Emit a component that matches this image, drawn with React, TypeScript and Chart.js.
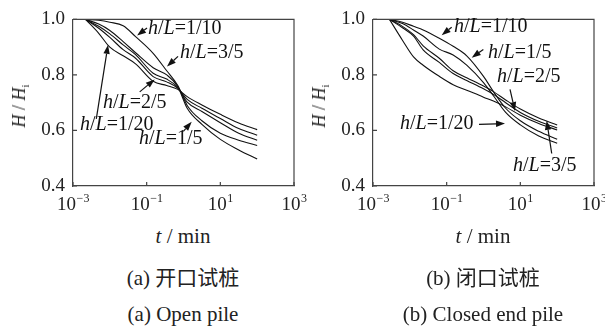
import React, { useEffect, useRef } from "react";
import { Chart, registerables } from "chart.js";

Chart.register(...registerables);

const SERIF = '"Liberation Serif", Tinos, "Times New Roman", Times, "DejaVu Serif", serif';
const CJK = '"Liberation Serif", Tinos, "Noto Sans CJK SC", serif';

// ---------- data: (a) open pile ----------
const openTimes = [0.0022, 0.005, 0.01, 0.023, 0.05, 0.15, 0.35, 0.7, 1.26, 3.16, 10, 31.6, 100];
const openHL_1_10 = [1.0, 0.997, 0.99, 0.977, 0.938, 0.878, 0.815, 0.762, 0.69, 0.635, 0.59, 0.565, 0.546];
const openHL_1_5 = [1.0, 0.983, 0.96, 0.92, 0.88, 0.826, 0.8, 0.758, 0.68, 0.622, 0.568, 0.53, 0.497];
const openHL_3_5 = [1.0, 0.975, 0.948, 0.908, 0.873, 0.806, 0.785, 0.755, 0.702, 0.668, 0.628, 0.59, 0.565];
const openHL_2_5 = [1.0, 0.968, 0.935, 0.891, 0.86, 0.794, 0.775, 0.752, 0.712, 0.68, 0.643, 0.607, 0.583];
const openHL_1_20 = [1.0, 0.95, 0.9, 0.869, 0.84, 0.777, 0.762, 0.748, 0.722, 0.692, 0.658, 0.627, 0.603];

// ---------- data: (b) closed end pile ----------
const closedTimes = [0.0028, 0.0063, 0.0126, 0.023, 0.063, 0.15, 0.35, 1, 1.86, 4, 10, 31.6, 100];
const closedHL_1_10 = [1.0, 0.99, 0.975, 0.962, 0.932, 0.903, 0.869, 0.795, 0.74, 0.68, 0.635, 0.597, 0.568];
const closedHL_1_5 = [1.0, 0.985, 0.962, 0.94, 0.893, 0.872, 0.835, 0.772, 0.725, 0.665, 0.62, 0.58, 0.554];
const closedHL_2_5 = [1.0, 0.975, 0.945, 0.905, 0.86, 0.815, 0.79, 0.76, 0.74, 0.71, 0.677, 0.645, 0.62];
const closedHL_3_5 = [1.0, 0.97, 0.94, 0.89, 0.845, 0.805, 0.78, 0.75, 0.73, 0.7, 0.665, 0.633, 0.609];
const closedHL_1_20 = [1.0, 0.925, 0.865, 0.835, 0.795, 0.765, 0.745, 0.72, 0.706, 0.685, 0.655, 0.625, 0.602];

// ---------- axes ----------
const xTickExponents = [-3, -1, 1, 3];
const yTickValues = [0.4, 0.6, 0.8, 1.0];

// ---------- annotation labels (log10 t, H/Hi) ----------
type Ann = { ratio: string; text: [number, number]; tail: [number, number]; tip: [number, number] };

const openAnnotations: Ann[] = [
  { ratio: "1/10", text: [-0.964, 0.966], tail: [-0.99, 0.969], tip: [-1.26, 0.942] },
  { ratio: "3/5", text: [-0.095, 0.881], tail: [-0.149, 0.867], tip: [-0.448, 0.83] },
  { ratio: "2/5", text: [-2.185, 0.7], tail: [-1.189, 0.739], tip: [-0.782, 0.784] },
  { ratio: "1/20", text: [-2.81, 0.62], tail: [-2.367, 0.642], tip: [-2.05, 0.908] },
  { ratio: "1/5", text: [-1.208, 0.569], tail: [-0.005, 0.597], tip: [0.223, 0.631] },
];

const closedAnnotations: Ann[] = [
  { ratio: "1/10", text: [-0.8, 0.972], tail: [-0.863, 0.972], tip: [-1.135, 0.943] },
  { ratio: "1/5", text: [0.123, 0.881], tail: [-0.004, 0.892], tip: [-0.319, 0.862] },
  { ratio: "2/5", text: [0.367, 0.795], tail: [0.72, 0.748], tip: [0.856, 0.67] },
  { ratio: "1/20", text: [-2.267, 0.625], tail: [-0.122, 0.622], tip: [0.584, 0.625] },
  { ratio: "3/5", text: [0.801, 0.472], tail: [1.852, 0.517], tip: [1.716, 0.635] },
];

const LINE_COLOR = "#111";
const AXIS_COLOR = "#444";

function drawArrow(ctx: CanvasRenderingContext2D, x1: number, y1: number, x2: number, y2: number) {
  const ang = Math.atan2(y2 - y1, x2 - x1);
  const len = 9;
  const hw = 3.2;
  const bx = x2 - Math.cos(ang) * len;
  const by = y2 - Math.sin(ang) * len;
  ctx.beginPath();
  ctx.moveTo(x1, y1);
  ctx.lineTo(bx, by);
  ctx.lineWidth = 1.2;
  ctx.strokeStyle = "#111";
  ctx.stroke();
  ctx.beginPath();
  ctx.moveTo(x2, y2);
  ctx.lineTo(bx - Math.sin(ang) * hw, by + Math.cos(ang) * hw);
  ctx.lineTo(bx + Math.sin(ang) * hw, by - Math.cos(ang) * hw);
  ctx.closePath();
  ctx.fillStyle = "#111";
  ctx.fill();
}

function drawLabel(ctx: CanvasRenderingContext2D, ratio: string, x: number, y: number) {
  const parts: [string, boolean][] = [
    ["h", true],
    ["/", false],
    ["L", true],
    ["=" + ratio, false],
  ];
  ctx.textBaseline = "middle";
  ctx.textAlign = "left";
  ctx.fillStyle = "#111";
  let cx = x;
  for (const [t, it] of parts) {
    ctx.font = `${it ? "italic " : ""}20px ${SERIF}`;
    ctx.fillText(t, cx, y);
    cx += ctx.measureText(t).width;
  }
}

function makePlugin(annotations: Ann[]) {
  return {
    id: "decor",
    afterDraw(chart: any) {
      const { ctx, chartArea } = chart;
      const xs = chart.scales.x;
      const ys = chart.scales.y;
      ctx.save();
      // frame
      ctx.strokeStyle = AXIS_COLOR;
      ctx.lineWidth = 1.2;
      ctx.beginPath();
      ctx.moveTo(chartArea.left, chartArea.top);
      ctx.lineTo(chartArea.right, chartArea.top);
      ctx.lineTo(chartArea.right, chartArea.bottom);
      ctx.stroke();
      // inward ticks
      ctx.beginPath();
      for (const e of xTickExponents) {
        const px = xs.getPixelForValue(Math.pow(10, e));
        ctx.moveTo(px, chartArea.bottom);
        ctx.lineTo(px, chartArea.bottom - 4);
      }
      for (const v of yTickValues) {
        const py = ys.getPixelForValue(v);
        ctx.moveTo(chartArea.left, py);
        ctx.lineTo(chartArea.left + 4, py);
      }
      ctx.stroke();
      // x tick labels with superscripts
      ctx.fillStyle = "#222";
      ctx.textBaseline = "alphabetic";
      ctx.textAlign = "left";
      for (const e of xTickExponents) {
        const px = xs.getPixelForValue(Math.pow(10, e));
        const sup = e < 0 ? "\u2212" + Math.abs(e) : String(e);
        ctx.font = `19px ${SERIF}`;
        const w1 = ctx.measureText("10").width;
        ctx.font = `12px ${SERIF}`;
        const w2 = ctx.measureText(sup).width;
        const x0 = px - (w1 + w2) / 2;
        const base = chartArea.bottom + 24;
        ctx.font = `19px ${SERIF}`;
        ctx.fillText("10", x0, base);
        ctx.font = `12px ${SERIF}`;
        ctx.fillText(sup, x0 + w1 + 0.5, base - 8);
      }
      // annotations
      for (const a of annotations) {
        const tx = xs.getPixelForValue(Math.pow(10, a.text[0]));
        const ty = ys.getPixelForValue(a.text[1]);
        drawLabel(ctx, a.ratio, tx, ty);
        const x1 = xs.getPixelForValue(Math.pow(10, a.tail[0]));
        const y1 = ys.getPixelForValue(a.tail[1]);
        const x2 = xs.getPixelForValue(Math.pow(10, a.tip[0]));
        const y2 = ys.getPixelForValue(a.tip[1]);
        drawArrow(ctx, x1, y1, x2, y2);
      }
      ctx.restore();
    },
  };
}

function PanelChart({ times, series, annotations }: { times: number[]; series: number[][]; annotations: Ann[] }) {
  const ref = useRef<HTMLCanvasElement | null>(null);
  useEffect(() => {
    if (!ref.current) return;
    const chart = new Chart(ref.current, {
      type: "line",
      data: {
        datasets: series.map((s) => ({
          data: times.map((t, i) => ({ x: t, y: s[i] })),
          borderColor: LINE_COLOR,
          borderWidth: 1.1,
          pointRadius: 0,
          fill: false,
          cubicInterpolationMode: "monotone" as const,
        })),
      },
      options: {
        animation: false,
        responsive: false,
        events: [],
        layout: { padding: { top: 10, right: 20, left: 0, bottom: 0 } },
        plugins: { legend: { display: false }, tooltip: { enabled: false } },
        scales: {
          x: {
            type: "logarithmic",
            min: 1e-3,
            max: 1e3,
            grid: { display: false, drawTicks: false },
            border: { display: true, color: AXIS_COLOR, width: 1.2 },
            ticks: { display: false },
            afterBuildTicks: (s: any) => {
              s.ticks = xTickExponents.map((e) => ({ value: Math.pow(10, e) }));
            },
            afterFit: (s: any) => {
              s.height = 30;
            },
          },
          y: {
            type: "linear",
            min: 0.4,
            max: 1.0,
            grid: { display: false, drawTicks: false },
            border: { display: true, color: AXIS_COLOR, width: 1.2 },
            ticks: {
              font: { family: SERIF, size: 19 },
              color: "#222",
              padding: 8,
              callback: (v: any) => Number(v).toFixed(1),
            },
            afterBuildTicks: (s: any) => {
              s.ticks = yTickValues.map((v) => ({ value: v }));
            },
            afterFit: (s: any) => {
              s.width = 73;
            },
          },
        },
      } as any,
      plugins: [makePlugin(annotations)],
    });
    return () => chart.destroy();
  }, []);
  return <canvas ref={ref} width={314} height={216} style={{ position: "absolute", left: 0, top: 0, width: 314, height: 216 }} />;
}

const centered = (x: number, y: number): React.CSSProperties => ({
  position: "absolute",
  left: x,
  top: y,
  transform: "translate(-50%, -50%)",
  whiteSpace: "nowrap",
  lineHeight: 1,
  color: "#222",
});

function Panel({ left, times, series, annotations, captionCn, captionEn }: any) {
  return (
    <div style={{ position: "absolute", left, top: 0, width: 300, height: 326 }}>
      <PanelChart times={times} series={series} annotations={annotations} />
      <div style={{ ...centered(19, 106), transform: "translate(-50%, -50%) rotate(-90deg)", fontFamily: SERIF, fontSize: 18 }}>
        <span style={{ fontStyle: "italic" }}>H</span> / <span style={{ fontStyle: "italic" }}>H</span>
        <span style={{ fontSize: 11, position: "relative", top: 4 }}>i</span>
      </div>
      <div style={{ ...centered(183, 236), fontFamily: SERIF, fontSize: 21 }}>
        <span style={{ fontStyle: "italic" }}>t</span> / min
      </div>
      <div style={{ ...centered(183, 278), fontFamily: CJK, fontSize: 21 }}>{captionCn}</div>
      <div style={{ ...centered(183, 314), fontFamily: SERIF, fontSize: 21 }}>{captionEn}</div>
    </div>
  );
}

export default function App() {
  return (
    <div style={{ position: "absolute", left: 0, top: 0, width: 605, height: 326, background: "#fff", overflow: "hidden" }}>
      <Panel
        left={0}
        times={openTimes}
        series={[openHL_1_10, openHL_1_5, openHL_3_5, openHL_2_5, openHL_1_20]}
        annotations={openAnnotations}
        captionCn="(a) 开口试桩"
        captionEn="(a) Open pile"
      />
      <Panel
        left={300}
        times={closedTimes}
        series={[closedHL_1_10, closedHL_1_5, closedHL_2_5, closedHL_3_5, closedHL_1_20]}
        annotations={closedAnnotations}
        captionCn="(b) 闭口试桩"
        captionEn="(b) Closed end pile"
      />
    </div>
  );
}
